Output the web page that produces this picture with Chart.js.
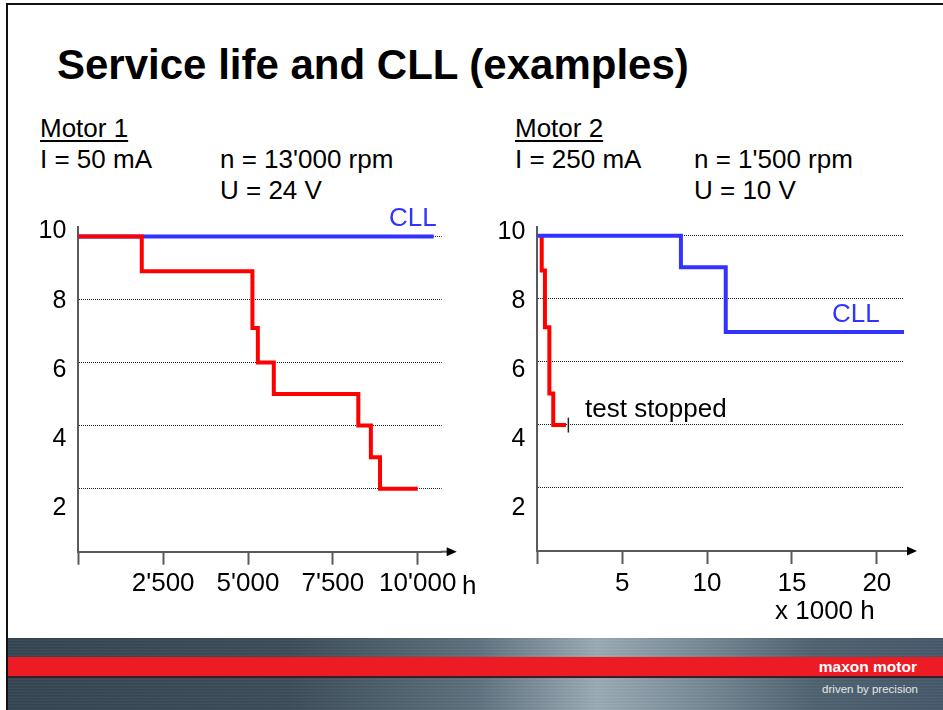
<!DOCTYPE html>
<html>
<head>
<meta charset="utf-8">
<script src="https://cdn.jsdelivr.net/npm/chart.js@4.4.0/dist/chart.umd.min.js"></script>
<style>
  body { margin: 0; width: 943px; height: 710px; position: relative; overflow: hidden; background: #fff;
         font-family: "Liberation Sans", Arial, sans-serif; color: #000; }
  .t { position: absolute; white-space: nowrap; font-size: 26px; line-height: 26px; }
  #frame { position: absolute; left: 6px; top: 3px; right: 0; bottom: 0; border-top: 2px solid #111; border-left: 2px solid #111; }
  #title { position: absolute; left: 57px; top: 44px; font-size: 42px; line-height: 42px; font-weight: bold; white-space: nowrap; }
  .u { text-decoration: underline; text-underline-offset: 3px; text-decoration-thickness: 1.5px; }
  .cll { color: #3333ff; }
  canvas { position: absolute; }
  #footer { position: absolute; left: 8px; top: 638px; width: 935px; height: 72px;
    background:
      repeating-linear-gradient(0deg, rgba(255,255,255,0.04) 0px, rgba(255,255,255,0.04) 1px, rgba(0,0,0,0.05) 2px, rgba(0,0,0,0) 3px),
      linear-gradient(90deg, #344552 0%, #3b4c59 30%, #5d707d 50%, #9aabb6 63%, #7d909c 72%, #4f6270 86%, #45586a 100%); }
  #stripe { position: absolute; left: 0; top: 19px; width: 100%; height: 19px; background: #ed1c24; border-bottom: 2px solid #3a1f28; }
  #brand { position: absolute; right: 26px; top: 20px; color: #fff; font-size: 15.5px; line-height: 17px; font-weight: bold; }
  #claim { position: absolute; right: 25px; top: 44px; color: #e4e8ea; font-size: 11.5px; line-height: 14px; }
</style>
</head>
<body>
<div id="frame"></div>
<div id="title">Service life and CLL (examples)</div>

<div class="t u" style="left:40px; top:115px;">Motor 1</div>
<div class="t" style="left:40px; top:146px;">I = 50 mA</div>
<div class="t" style="left:220px; top:146px;">n = 13'000 rpm</div>
<div class="t" style="left:220px; top:177px;">U = 24 V</div>

<div class="t u" style="left:515px; top:115px;">Motor 2</div>
<div class="t" style="left:515px; top:146px;">I = 250 mA</div>
<div class="t" style="left:694px; top:146px;">n = 1'500 rpm</div>
<div class="t" style="left:694px; top:177px;">U = 10 V</div>

<canvas id="c1" width="470" height="420" style="left:0; top:200px;"></canvas>
<canvas id="c2" width="473" height="420" style="left:470px; top:200px;"></canvas>

<div class="t cll" style="left:389px; top:204px;">CLL</div>
<div class="t cll" style="left:832px; top:300px;">CLL</div>
<div class="t" style="left:585px; top:395px;">test stopped</div>
<div class="t" style="left:462px; top:572px;">h</div>
<div class="t" style="left:775px; top:597px;">x 1000 h</div>

<div id="footer">
  <div id="stripe"></div>
  <div id="brand">maxon motor</div>
  <div id="claim">driven by precision</div>
</div>

<script>
// Motor 1: number of running motors over operating hours
const m1Hours = [0, 1870, 5130, 5290, 5760, 8250, 8620, 8890, 10000];
const m1Motors = [10, 8.9, 7.1, 6, 5, 4, 3, 2, 2];
const m1CllHours = [0, 10470];
const m1CllMotors = [10, 10];
const m1XTicks = [0, 2500, 5000, 7500, 10000];
const m1XLabels = ['', "2'500", "5'000", "7'500", "10'000"];

// Motor 2: hours in x 1000 h
const m2Hours = [0.26, 0.26, 0.45, 0.71, 0.94, 1.69];
const m2Motors = [10, 8.9, 7.1, 5, 4, 4];
const m2CllHours = [0, 8.46, 11.1, 21.6];
const m2CllMotors = [10, 9, 6.95, 6.95];
const m2StopHours = [1.83, 1.83];
const m2StopMotors = [4.23, 3.76];
const m2XTicks = [0, 5, 10, 15, 20];
const m2XLabels = ['', '5', '10', '15', '20'];

const yTicks = [2, 4, 6, 8, 10];

Chart.defaults.font.family = '"Liberation Sans", Arial, sans-serif';
Chart.defaults.color = '#000';

const RED = '#ff0000';
const BLUE = '#3333ff';
const AXIS = '#5a5a5a';

function pts(xs, ys) {
    return xs.map((x, i) => ({x: x, y: ys[i]}));
}

// x axis line runs on past the plot area and ends in an arrow
const arrowPlugin = {
    id: 'arrow',
    afterDraw: function(chart, args, opts) {
        const ctx = chart.ctx;
        const a = chart.chartArea;
        const tip = a.right + opts.ext;
        ctx.save();
        ctx.strokeStyle = AXIS;
        ctx.lineWidth = 2;
        ctx.beginPath();
        ctx.moveTo(a.right - 1, a.bottom);
        ctx.lineTo(tip - 6, a.bottom);
        ctx.stroke();
        ctx.fillStyle = '#000';
        ctx.beginPath();
        ctx.moveTo(tip, a.bottom);
        ctx.lineTo(tip - 10, a.bottom - 4.5);
        ctx.lineTo(tip - 10, a.bottom + 4.5);
        ctx.closePath();
        ctx.fill();
        ctx.restore();
    }
};

function makeChart(id, cfg) {
    const lineSet = (xs, ys, color, w) => ({
        data: pts(xs, ys),
        borderColor: color,
        borderWidth: w,
        stepped: 'before',
        pointRadius: 0,
        fill: false,
        clip: false,
        borderJoinStyle: 'miter',
        borderCapStyle: 'butt'
    });
    return new Chart(document.getElementById(id), {
        type: 'line',
        data: { datasets: cfg.sets.map(s => lineSet(s[0], s[1], s[2], s[3])) },
        options: {
            responsive: false,
            animation: false,
            events: [],
            layout: { padding: { top: cfg.padTop, right: cfg.padRight, left: 0, bottom: 0 } },
            plugins: { legend: { display: false }, tooltip: { enabled: false }, arrow: { ext: cfg.arrowExt } },
            scales: {
                x: {
                    type: 'linear',
                    min: 0,
                    max: cfg.xMax,
                    afterBuildTicks: s => { s.ticks = cfg.xTicks.map(v => ({value: v})); },
                    afterFit: s => { s.height = cfg.xHeight; },
                    ticks: {
                        font: { size: 26 },
                        color: '#000',
                        padding: 4,
                        maxRotation: 0,
                        autoSkip: false,
                        callback: (v) => cfg.xLabels[cfg.xTicks.indexOf(v)]
                    },
                    grid: { drawOnChartArea: false, drawTicks: true, tickLength: 13, tickColor: AXIS, tickWidth: 2 },
                    border: { color: AXIS, width: 2 }
                },
                y: {
                    type: 'linear',
                    position: 'left',
                    weight: 0,
                    min: 0,
                    max: cfg.yMax,
                    afterBuildTicks: s => { s.ticks = [0].concat(yTicks).map(v => ({value: v})); },
                    afterFit: s => { s.width = 0; },
                    ticks: { display: false },
                    grid: { color: '#222', lineWidth: 1, drawTicks: false },
                    border: { color: AXIS, width: 2, dash: [1, 1] }
                },
                yl: {
                    type: 'linear',
                    position: 'left',
                    weight: 1,
                    min: cfg.labMin,
                    max: cfg.labMax,
                    afterBuildTicks: s => { s.ticks = yTicks.map(v => ({value: v})); },
                    afterFit: s => { s.width = cfg.labWidth; },
                    ticks: { font: { size: 25 }, color: '#000', padding: 12 },
                    grid: { display: false, drawTicks: false },
                    border: { display: false }
                }
            }
        },
        plugins: [arrowPlugin]
    });
}

makeChart('c1', {
    sets: [
        [m1Hours, m1Motors, RED, 4],
        [m1CllHours, m1CllMotors, BLUE, 4]
    ],
    xMax: 10707, xTicks: m1XTicks, xLabels: m1XLabels,
    yMax: 10.3, labMin: 0.743, labMax: 10.13, labWidth: 78.3,
    padTop: 25.5, padRight: 28.3, xHeight: 68.3, arrowExt: 15
});

makeChart('c2', {
    sets: [
        [m2CllHours, m2CllMotors, BLUE, 4],
        [m2Hours, m2Motors, RED, 4],
        [m2StopHours, m2StopMotors, '#222', 1.5]
    ],
    xMax: 21.6, xTicks: m2XTicks, xLabels: m2XLabels,
    yMax: 10.28, labMin: 0.763, labMax: 10.144, labWidth: 67.3,
    padTop: 25, padRight: 39, xHeight: 69, arrowExt: 13
});
</script>
</body>
</html>
